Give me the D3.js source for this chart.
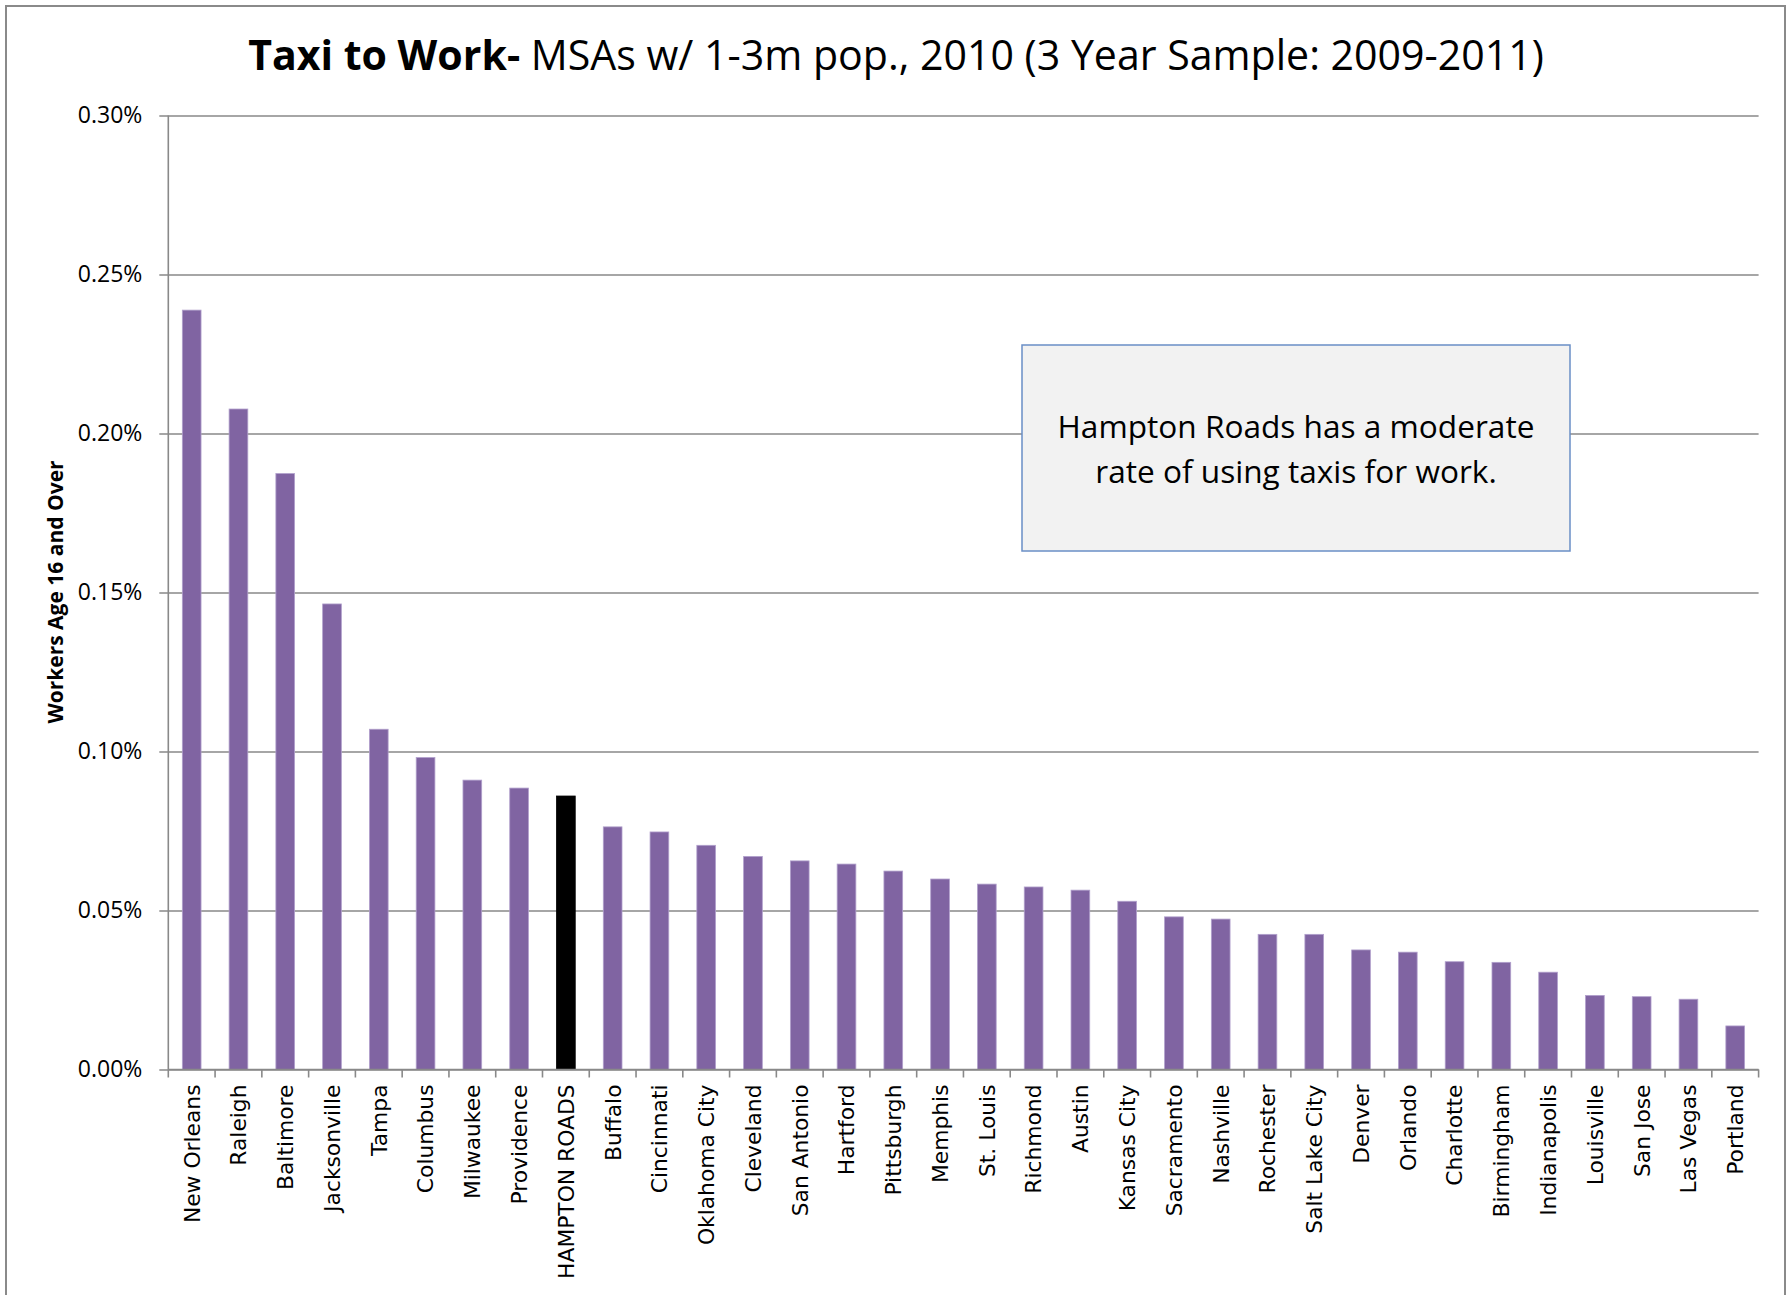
<!DOCTYPE html>
<html>
<head>
<meta charset="utf-8">
<script src="https://cdn.jsdelivr.net/npm/d3@7"></script>
<style>
  body { margin: 0; background: #fff; }
  svg { display: block; }
</style>
</head>
<body>
<script>
(function () {

  let cities = [
    'New Orleans', 'Raleigh', 'Baltimore', 'Jacksonville', 'Tampa', 'Columbus',
    'Milwaukee', 'Providence', 'HAMPTON ROADS', 'Buffalo', 'Cincinnati', 'Oklahoma City',
    'Cleveland', 'San Antonio', 'Hartford', 'Pittsburgh', 'Memphis', 'St. Louis',
    'Richmond', 'Austin', 'Kansas City', 'Sacramento', 'Nashville', 'Rochester',
    'Salt Lake City', 'Denver', 'Orlando', 'Charlotte', 'Birmingham', 'Indianapolis',
    'Louisville', 'San Jose', 'Las Vegas', 'Portland'
  ];

  // percent of workers 16+ taking a taxi
  let taxiShare = [
    0.2388, 0.2077, 0.1874, 0.1464, 0.1070, 0.0981,
    0.0910, 0.0885, 0.0860, 0.0763, 0.0747, 0.0705,
    0.0670, 0.0656, 0.0646, 0.0624, 0.0599, 0.0583,
    0.0574, 0.0564, 0.0529, 0.0480, 0.0473, 0.0425,
    0.0425, 0.0376, 0.0369, 0.0339, 0.0337, 0.0306,
    0.0233, 0.0229, 0.0221, 0.0137
  ];

  let yTicks = [0, 0.05, 0.10, 0.15, 0.20, 0.25, 0.30];

  let highlight = 'HAMPTON ROADS';
  let titleBold = 'Taxi to Work-';
  let titleRest = ' MSAs w/ 1-3m pop., 2010 (3 Year Sample: 2009-2011)';
  let yTitle = 'Workers Age 16 and Over';
  let note = ['Hampton Roads has a moderate', 'rate of using taxis for work.'];

  let totalWidth  = 1787;
  let totalHeight = 1295;
  let plot = { left: 168.3, right: 1758.6, top: 115.5, bottom: 1069.5 };
  let font = '"Open Sans", "Noto Sans", sans-serif';
  let gridColor = '#898989';

  let svg = d3.select('body').append('svg')
      .attr('width', totalWidth)
      .attr('height', totalHeight);

  // chart border
  svg.append('rect')
    .attr('x', 6).attr('y', 6)
    .attr('width', 1779).attr('height', 1310)
    .attr('fill', '#fff')
    .attr('stroke', '#8a8a8a')
    .attr('stroke-width', 2);

  let x = d3.scaleBand()
      .domain(cities)
      .range([plot.left, plot.right])
      .paddingInner(0.6)
      .paddingOuter(0.3);

  let y = d3.scaleLinear()
      .domain([0, 0.30])
      .range([plot.bottom, plot.top]);

  // gridlines + y axis
  let yAxis = d3.axisLeft(y)
      .tickValues(yTicks)
      .tickFormat(function (d) { return d.toFixed(2) + '%'; })
      .tickSize(-(plot.right - plot.left))
      .tickPadding(26);

  let gy = svg.append('g')
      .attr('transform', 'translate(' + plot.left + ',0)')
      .call(yAxis);
  gy.select('.domain').remove();
  gy.selectAll('.tick line')
    .attr('x1', -9)
    .attr('stroke', gridColor)
    .attr('stroke-width', 1.6);
  gy.selectAll('.tick text')
    .attr('font-family', font)
    .attr('font-size', 23)
    .attr('fill', '#000');

  // y axis line
  svg.append('line')
    .attr('x1', plot.left).attr('x2', plot.left)
    .attr('y1', plot.top).attr('y2', plot.bottom)
    .attr('stroke', gridColor).attr('stroke-width', 1.6);

  // bars
  svg.append('g').selectAll('rect.bar')
    .data(cities)
    .enter().append('rect')
    .attr('class', 'bar')
    .attr('x', function (d) { return x(d); })
    .attr('width', x.bandwidth())
    .attr('y', function (d, i) { return y(taxiShare[i]); })
    .attr('height', function (d, i) { return plot.bottom - y(taxiShare[i]); })
    .attr('fill', function (d) { return d == highlight ? '#000' : '#8064a2'; })
    .attr('stroke', function (d) { return d == highlight ? '#000' : '#b1a0cc'; })
    .attr('stroke-width', 0.8);

  // x axis line and category ticks at band boundaries
  svg.append('line')
    .attr('x1', plot.left).attr('x2', plot.right)
    .attr('y1', plot.bottom).attr('y2', plot.bottom)
    .attr('stroke', gridColor).attr('stroke-width', 1.6);

  let bounds = d3.range(cities.length + 1).map(function (i) { return plot.left + i * x.step(); });
  svg.append('g').selectAll('line')
    .data(bounds)
    .enter().append('line')
    .attr('x1', function (d) { return d; })
    .attr('x2', function (d) { return d; })
    .attr('y1', plot.bottom)
    .attr('y2', plot.bottom + 8)
    .attr('stroke', gridColor).attr('stroke-width', 1.6);

  svg.append('g').selectAll('text')
    .data(cities)
    .enter().append('text')
    .attr('transform', function (d) {
      return 'translate(' + (x(d) + x.bandwidth() / 2) + ',' + (plot.bottom + 15) + ') rotate(-90)';
    })
    .attr('text-anchor', 'end')
    .attr('dy', '0.36em')
    .attr('font-family', '"DejaVu Sans", sans-serif')
    .attr('font-size', 21.8)
    .text(function (d) { return d; });

  // y axis title
  svg.append('text')
    .attr('transform', 'translate(55,592) rotate(-90)')
    .attr('text-anchor', 'middle')
    .attr('dy', '0.36em')
    .attr('font-family', font)
    .attr('font-weight', 'bold')
    .attr('font-size', 21)
    .text(yTitle);

  // title, fitted to the reference width
  let title = svg.append('text')
      .attr('x', 896)
      .attr('y', 70)
      .attr('text-anchor', 'middle')
      .attr('font-family', font)
      .attr('font-size', 40);
  title.append('tspan').attr('font-weight', 'bold').text(titleBold);
  title.append('tspan').text(titleRest);
  let tw = title.node().getComputedTextLength();
  title.attr('font-size', 40 * 1296 / tw);

  // note box
  let box = { x: 1022, y: 345, w: 548, h: 206 };
  svg.append('rect')
    .attr('x', box.x).attr('y', box.y)
    .attr('width', box.w).attr('height', box.h)
    .attr('fill', '#f2f2f2')
    .attr('stroke', '#6a8fc6')
    .attr('stroke-width', 1.5);

  let noteText = svg.append('text')
      .attr('text-anchor', 'middle')
      .attr('font-family', font)
      .attr('font-size', 28);
  noteText.selectAll('tspan')
    .data(note)
    .enter().append('tspan')
    .attr('x', box.x + box.w / 2)
    .attr('y', function (d, i) { return 438 + i * 45; })
    .text(function (d) { return d; });
  let nw = noteText.select('tspan').node().getComputedTextLength();
  noteText.attr('font-size', 28 * 477 / nw);

})();
</script>
</body>
</html>
